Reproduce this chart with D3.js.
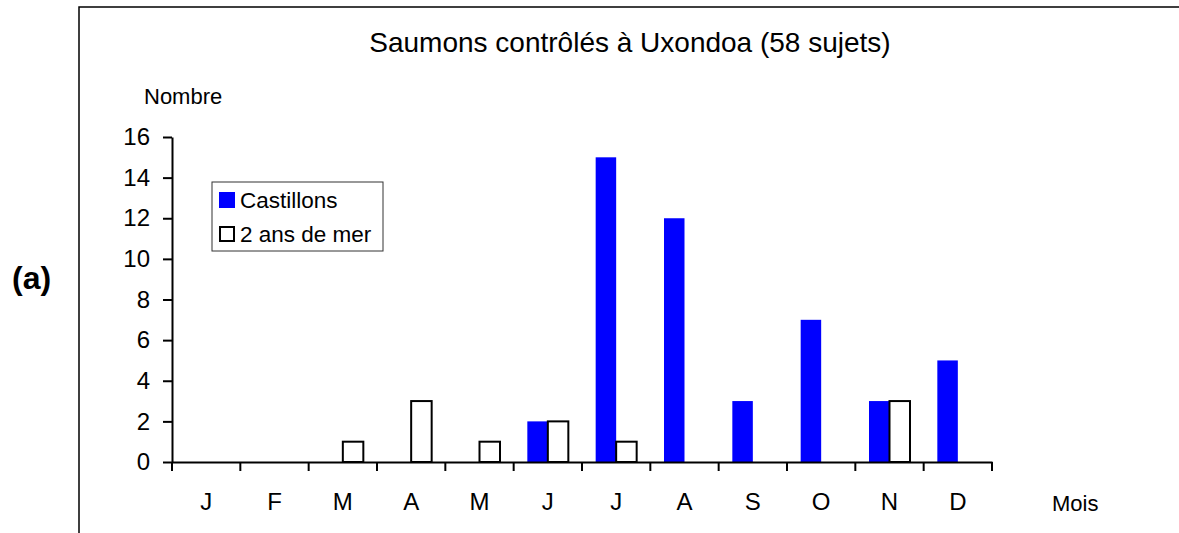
<!DOCTYPE html>
<html lang="fr">
<head>
<meta charset="UTF-8">
<title>Saumons contrôlés à Uxondoa</title>
<script src="https://d3js.org/d3.v7.min.js"></script>
<style>
    body { margin: 0; background: #fff; }
    svg { display: block; font-family: "Liberation Sans", Arial, sans-serif; }
</style>
</head>
<body>
<div id="chart"></div>
<script>
    // data
    var months = ["J", "F", "M", "A", "M ", "J ", "J  ", "A ", "S", "O", "N", "D"];
    var seriesNames = ["Castillons", "2 ans de mer"];
    var castillons = [0, 0, 0, 0, 0, 2, 15, 12, 3, 7, 3, 5];
    var deuxAns = [0, 0, 1, 3, 1, 2, 1, 0, 0, 0, 3, 0];
    var yTicks = [0, 2, 4, 6, 8, 10, 12, 14, 16];

    var W = 1179, H = 533;
    var svg = d3.select("#chart").append("svg")
        .attr("width", W).attr("height", H);

    // outer frame (only left and top edges are visible)
    svg.append("path")
        .attr("d", "M79,533 V7 H1179")
        .attr("fill", "none").attr("stroke", "#000").attr("stroke-width", 1.5);

    var x = d3.scaleBand().domain(months).range([172, 992]).padding(0);
    var x1 = d3.scaleBand().domain(seriesNames).range([x.bandwidth() * 0.2, x.bandwidth() * 0.8]);
    var y = d3.scaleLinear().domain([0, 16]).range([462, 137]);

    var rows = months.map(function(m, i) {
        return { month: m, values: [castillons[i], deuxAns[i]] };
    });

    // bars
    var groups = svg.append("g").selectAll("g").data(rows).enter().append("g")
        .attr("transform", function(d) { return "translate(" + x(d.month) + ",0)"; });
    groups.selectAll("rect")
        .data(function(d) { return d.values.map(function(v, k) { return { key: seriesNames[k], v: v }; }); })
        .enter().filter(function(d) { return d.v > 0; }).append("rect")
        .attr("x", function(d) { return x1(d.key); })
        .attr("y", function(d) { return y(d.v); })
        .attr("width", x1.bandwidth())
        .attr("height", function(d) { return y(0) - y(d.v); })
        .attr("fill", function(d) { return d.key === "Castillons" ? "#0000ff" : "#fff"; })
        .attr("stroke", function(d) { return d.key === "Castillons" ? "none" : "#000"; })
        .attr("stroke-width", 2);

    // y axis
    var yAxis = svg.append("g").attr("transform", "translate(172,0)")
        .call(d3.axisLeft(y).tickValues(yTicks).tickSize(9).tickSizeOuter(0).tickPadding(13));
    yAxis.select(".domain").attr("stroke-width", 2);
    yAxis.selectAll(".tick line").attr("stroke-width", 2);
    yAxis.selectAll("text").attr("font-size", 24).attr("font-family", "Liberation Sans, Arial, sans-serif");

    // x axis
    var xAxis = svg.append("g").attr("transform", "translate(0,462)")
        .call(d3.axisBottom(x).tickSize(0).tickSizeOuter(0).tickPadding(31));
    xAxis.select(".domain").attr("stroke-width", 2);
    xAxis.selectAll("text").attr("font-size", 24).attr("font-family", "Liberation Sans, Arial, sans-serif")
        .text(function(d) { return d.trim(); });
    var bounds = months.map(function(m) { return x(m); }).concat([x.range()[1]]);
    xAxis.selectAll(".bound").data(bounds).enter().append("line")
        .attr("class", "bound")
        .attr("x1", function(d) { return d; }).attr("x2", function(d) { return d; })
        .attr("y1", 0).attr("y2", 9)
        .attr("stroke", "#000").attr("stroke-width", 2);

    // titles
    svg.append("text").attr("x", 630).attr("y", 52)
        .attr("text-anchor", "middle").attr("font-size", 28)
        .text("Saumons contrôlés à Uxondoa (58 sujets)");
    svg.append("text").attr("x", 144).attr("y", 104)
        .attr("font-size", 22).text("Nombre");
    svg.append("text").attr("x", 1052).attr("y", 511)
        .attr("font-size", 22).text("Mois");
    svg.append("text").attr("x", 12).attr("y", 289)
        .attr("font-size", 32).attr("font-weight", "bold").text("(a)");

    // legend
    var legend = svg.append("g").attr("transform", "translate(212,182)");
    legend.append("rect").attr("width", 171).attr("height", 69)
        .attr("fill", "#fff").attr("stroke", "#333").attr("stroke-width", 1);
    var item = legend.selectAll(".item").data(seriesNames).enter().append("g")
        .attr("class", "item")
        .attr("transform", function(d, i) { return "translate(7," + (10 + i * 34) + ")"; });
    item.append("rect")
        .attr("x", function(d, i) { return i ? 1 : 0; })
        .attr("y", function(d, i) { return i ? 1 : 0; })
        .attr("width", function(d, i) { return i ? 14 : 16; })
        .attr("height", function(d, i) { return i ? 14 : 16; })
        .attr("fill", function(d, i) { return i ? "#fff" : "#0000ff"; })
        .attr("stroke", function(d, i) { return i ? "#000" : "none"; })
        .attr("stroke-width", 2);
    item.append("text").attr("x", 21).attr("y", 16)
        .attr("font-size", 22.5).text(function(d) { return d; });
</script>
</body>
</html>
